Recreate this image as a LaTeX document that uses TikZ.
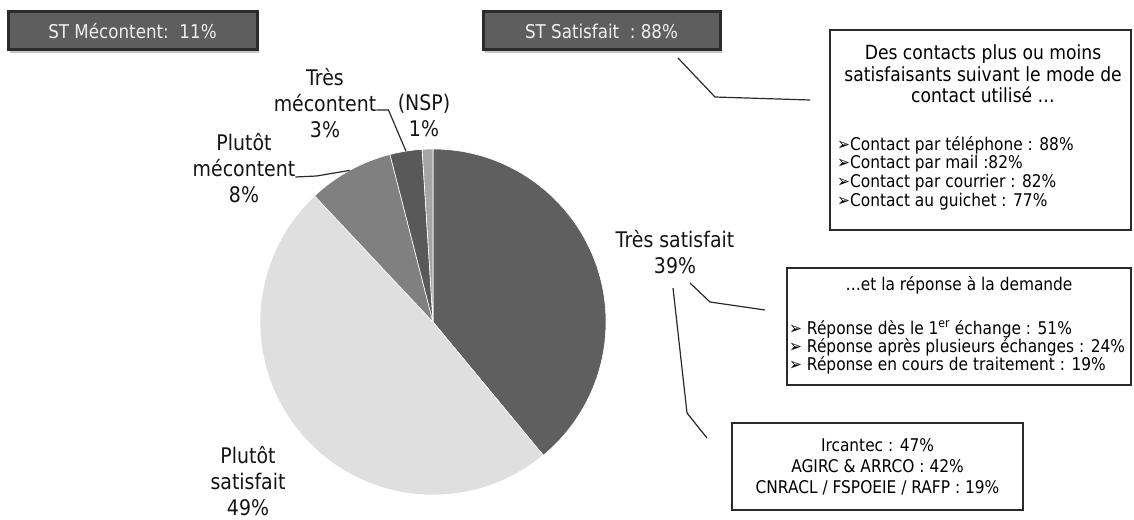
\documentclass[tikz,border=0pt]{standalone}
\usepackage{fontspec}
\setmainfont{DejaVu Sans}[FakeStretch=0.88]
\usetikzlibrary{positioning,calc,shadows}
\definecolor{sliceDark}{HTML}{5F5F5F}
\definecolor{sliceLight}{HTML}{DFDFDF}
\definecolor{sliceMid}{HTML}{808080}
\definecolor{sliceDeep}{HTML}{595959}
\definecolor{sliceNsp}{HTML}{A5A5A5}
\definecolor{headGray}{HTML}{5E5E5E}
\definecolor{headBorder}{HTML}{2B2B2B}
\definecolor{headText}{HTML}{EEEEEE}
\definecolor{lineGray}{HTML}{2A2A2A}
\definecolor{labelBlack}{HTML}{141414}
\tikzset{
  pielabel/.style={align=center, inner sep=0pt, text=labelBlack, font=\fontsize{21.5}{26}\selectfont},
  headbox/.style={draw=headBorder, line width=3pt, fill=headGray, text=headText,
    font=\fontsize{19}{22}\selectfont, minimum height=38pt,
    drop shadow={shadow xshift=2pt, shadow yshift=-3pt, opacity=0.45}},
  infobox/.style={draw=lineGray, line width=1.5pt, fill=white},
  leader/.style={draw=lineGray, line width=1.2pt},
}

\begin{document}
\begin{tikzpicture}[x=1pt,y=1pt]
  \useasboundingbox (0,0) rectangle (1134,-519);
  % pie: slices clockwise from the top
  \coordinate (pie) at (433,-322);
  \foreach \from/\to/\col in {90/-50.4/sliceDark, -50.4/-226.8/sliceLight, -226.8/-255.6/sliceMid, -255.6/-266.4/sliceDeep, -266.4/-270/sliceNsp} {
    \filldraw[fill=\col, draw=white, line width=0.6pt] (pie) -- ++(\from:173) arc[start angle=\from, end angle=\to, radius=173] -- cycle;
  }
  \coordinate (e8) at ($(pie)+(118.8:173)$);
  \coordinate (e3) at ($(pie)+(99:173)$);

  % slice labels
  \node[pielabel] (trsat) at (675,-252) {Très satisfait\\39\%};
  \node[pielabel] (plsat) at (248,-481) {Plutôt\\satisfait\\49\%};
  \node[pielabel] (plmec) at (244,-168) {Plutôt\\mécontent\\8\%};
  \node[pielabel] (trmec) at (325,-103) {Très\\mécontent\\3\%};
  \node[pielabel] (nsp) at (424,-115) {(NSP)\\1\%};
  \draw[leader] ([yshift=-9pt]plmec.east) -- ++(21,1) -- (e8);
  \draw[leader] ([yshift=-7pt]trmec.east) -- ++(12,0) -- (e3);

  % headline boxes
  \node[headbox, minimum width=249pt] (stmec) at (132.5,-31) {ST Mécontent:\ \ 11\%};
  \node[headbox, minimum width=237pt] (stsat) at (601.5,-31) {ST Satisfait\ \ :\ 88\%};

  % contact box
  \node[infobox, minimum width=301pt, minimum height=200pt] (contact) at (980.5,-130) {};
  \node[align=center, inner sep=0pt, font=\fontsize{19.5}{21.5}\selectfont] (contacttitle) at (983,-74)
    {Des contacts plus ou moins\\satisfaisants suivant le mode de\\contact utilisé …};
  \node[anchor=west, align=left, inner sep=0pt, font=\fontsize{17.5}{18.7}\selectfont] (contactlist) at (837,-173)
    {➢Contact par téléphone : 88\%\\➢Contact par mail :82\%\\➢Contact par courrier : 82\%\\➢Contact au guichet : 77\%};
  \coordinate (satA) at (678,-58);
  \coordinate (satB) at (810,-100);
  \draw[leader] (satA) -- (715,-97) -- (satB);

  % response box
  \node[infobox, minimum width=344pt, minimum height=117pt] (reponse) at (959,-326.5) {};
  \node[inner sep=0pt, font=\fontsize{17.5}{19}\selectfont] (reponsetitle) at (959,-285) {…et la réponse à la demande};
  \node[anchor=west, align=left, inner sep=0pt, font=\fontsize{17.5}{18}\selectfont] (reponselist) at (789,-347)
    {➢ Réponse dès le 1\textsuperscript{er} échange : 51\%\\➢ Réponse après plusieurs échanges : 24\%\\➢ Réponse en cours de traitement : 19\%};
  \coordinate (repA) at (690,-283);
  \coordinate (repB) at (765,-310);
  \draw[leader] (repA) -- (710,-302) -- (repB);

  % regimes box
  \node[infobox, align=center, minimum width=291pt, minimum height=87pt, font=\fontsize{17.5}{21}\selectfont] (regimes) at (877.5,-466.5)
    {Ircantec : 47\%\\AGIRC \& ARRCO : 42\%\\CNRACL / FSPOEIE / RAFP : 19\%};
  \coordinate (regA) at (673,-288);
  \coordinate (regB) at (707,-438);
  \draw[leader] (regA) -- (687,-413) -- (regB);
\end{tikzpicture}
\end{document}
